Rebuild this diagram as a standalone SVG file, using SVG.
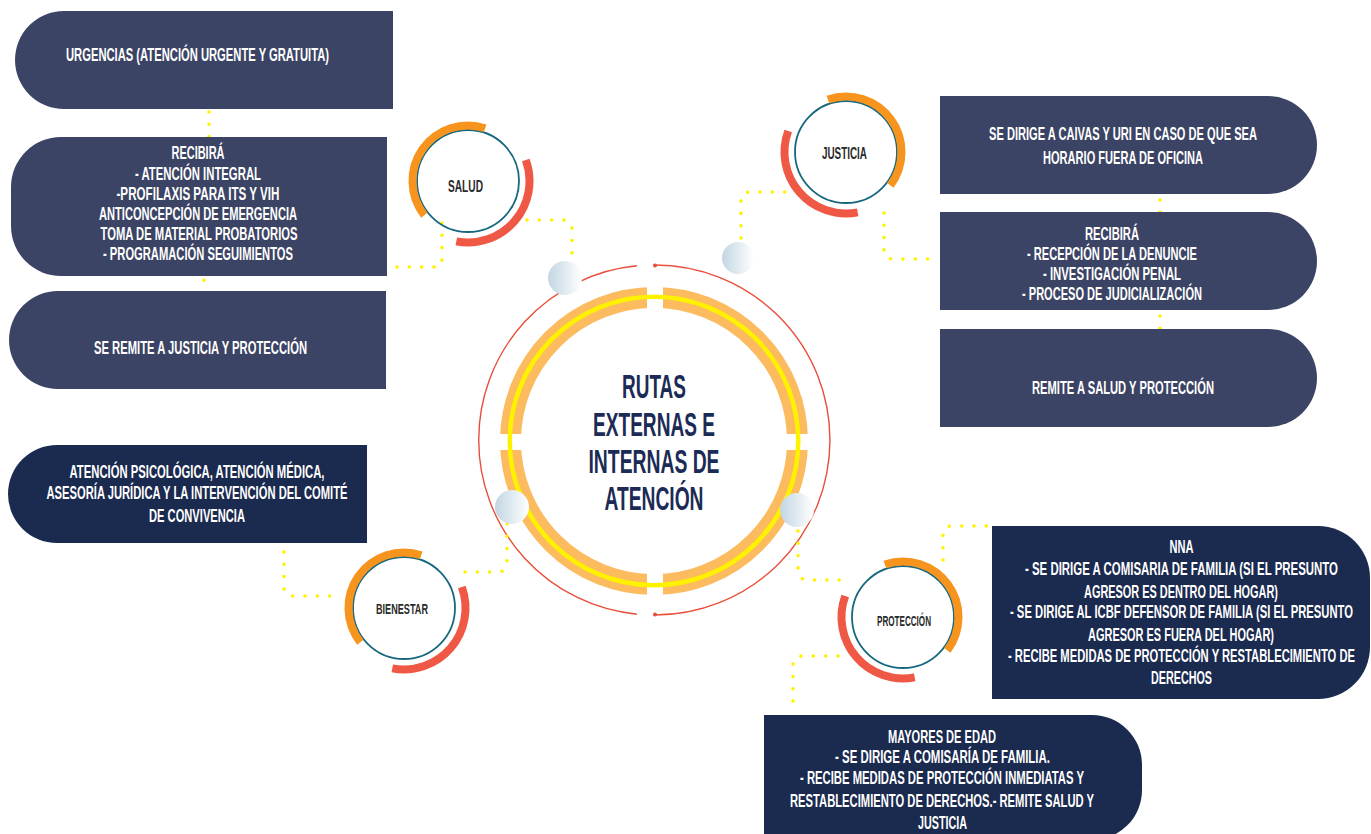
<svg xmlns="http://www.w3.org/2000/svg" width="1371" height="834" viewBox="0 0 1371 834">
<style>
.bx1{fill:#3c4465}
.bx2{fill:#1b2a4f}
.t{font-family:"Liberation Sans",Arial,sans-serif;font-weight:bold;fill:#ffffff;text-anchor:middle;font-size:17.5px}
.lbl{font-family:"Liberation Sans",Arial,sans-serif;font-weight:bold;fill:#2a2a2a;text-anchor:middle}
.title{font-family:"Liberation Sans",Arial,sans-serif;font-weight:bold;fill:#1c2b55;text-anchor:middle;font-size:33px}
.dots{fill:none;stroke:#fff200;stroke-width:3.6;stroke-linecap:round;stroke-dasharray:0 12.3}
.teal{fill:none;stroke:#17687f;stroke-width:1.8}
.or{fill:none;stroke:#f7941d;stroke-width:8}
.rd{fill:none;stroke:#ef5844;stroke-width:8}
.ball{fill:url(#bg)}
</style>
<defs>
<linearGradient id="bg" x1="0" y1="0" x2="1" y2="0">
<stop offset="0" stop-color="#c2d6e2"/>
<stop offset="1" stop-color="#ffffff"/>
</linearGradient>
<mask id="gaps" maskUnits="userSpaceOnUse" x="0" y="0" width="1371" height="834">
<rect x="0" y="0" width="1371" height="834" fill="#fff"/>
<rect x="647" y="270" width="16" height="340" fill="#000"/>
<rect x="480" y="434" width="350" height="16" fill="#000"/>
</mask>
</defs>
<rect width="1371" height="834" fill="#ffffff"/>

<g id="centro">
<path d="M637 265.8 A175 175 0 0 0 637 614.2" fill="none" stroke="#e94e3a" stroke-width="1.4"/>
<path d="M655 265 A175 175 0 0 1 655 615" fill="none" stroke="#e94e3a" stroke-width="1.4"/>
<circle cx="655" cy="265.5" r="2" fill="#e94e3a"/>
<circle cx="655" cy="614.5" r="2" fill="#e94e3a"/>
<circle cx="654" cy="441" r="143.5" fill="none" stroke="#fbbb5e" stroke-width="21" mask="url(#gaps)"/>
<circle cx="654" cy="441" r="144.3" fill="none" stroke="#fff200" stroke-width="4.5"/>
<text class="title" x="654" y="398" textLength="64" lengthAdjust="spacingAndGlyphs">RUTAS</text>
<text class="title" x="654" y="436" textLength="122" lengthAdjust="spacingAndGlyphs">EXTERNAS E</text>
<text class="title" x="654" y="473" textLength="131" lengthAdjust="spacingAndGlyphs">INTERNAS DE</text>
<text class="title" x="654" y="510" textLength="99" lengthAdjust="spacingAndGlyphs">ATENCIÓN</text>
</g>

<g id="connectors">
<path class="dots" d="M209 112 V137"/>
<path class="dots" d="M204 268 V293"/>
<path class="dots" d="M397 267 H436 Q442 267 442 259 V220"/>
<path class="dots" d="M527 220 H563 Q572 221 572 230 V256"/>
<path class="dots" d="M741 238 V201 Q741 192 750 192 H786"/>
<path class="dots" d="M884 213 V250 Q884 259 893 259 H931"/>
<circle cx="1160" cy="187" r="2" fill="none" stroke="#8a8f99" stroke-width="0.8"/>
<path class="dots" d="M1160 200 V214"/>
<path class="dots" d="M1160 316 V343"/>
<path class="dots" d="M284 552 V587 Q284 596 293 596 H330"/>
<path class="dots" d="M465 572 H499 Q507 571 507 562 V523"/>
<path class="dots" d="M798 531 V569 Q798 580 808 580 H841"/>
<path class="dots" d="M943 560 V535 Q943 526 952 526 H988"/>
<path class="dots" d="M838 656 H802 Q793 657 793 666 V702"/>
<circle class="ball" cx="565" cy="278" r="17"/>
<circle class="ball" cx="738" cy="258" r="16"/>
<circle class="ball" cx="512" cy="507" r="17"/>
<circle class="ball" cx="797" cy="510" r="17"/>
</g>

<g id="salud">
<circle class="teal" cx="468" cy="181" r="51"/>
<path class="or" d="M424.3 215.2 A55.5 55.5 0 0 1 485.2 128.2"/>
<path class="rd" d="M525.8 160 A61.5 61.5 0 0 1 456.3 241.4"/>
<text class="lbl" x="465.5" y="192" font-size="17" textLength="35" lengthAdjust="spacingAndGlyphs">SALUD</text>
</g>

<g id="justicia">
<circle class="teal" cx="846" cy="152" r="51"/>
<path class="or" d="M827.9 99.5 A55.5 55.5 0 0 1 890.3 185.4"/>
<path class="rd" d="M857.7 212.4 A61.5 61.5 0 0 1 788.2 131"/>
<text class="lbl" x="844.5" y="159" font-size="16.5" textLength="45" lengthAdjust="spacingAndGlyphs">JUSTICIA</text>
</g>

<g id="bienestar">
<circle class="teal" cx="404" cy="608" r="51"/>
<path class="or" d="M360.3 642.2 A55.5 55.5 0 0 1 421.2 555.2"/>
<path class="rd" d="M461.8 587 A61.5 61.5 0 0 1 392.3 668.4"/>
<text class="lbl" x="402" y="614" font-size="15" textLength="52" lengthAdjust="spacingAndGlyphs">BIENESTAR</text>
</g>

<g id="proteccion">
<circle class="teal" cx="903" cy="617" r="51"/>
<path class="or" d="M884.9 564.5 A55.5 55.5 0 0 1 947.3 650.4"/>
<path class="rd" d="M914.7 677.4 A61.5 61.5 0 0 1 845.2 596"/>
<text class="lbl" x="904" y="626" font-size="14" textLength="54" lengthAdjust="spacingAndGlyphs">PROTECCIÓN</text>
</g>

<g id="urgencias">
<path class="bx1" d="M64 11 H393 V109 H64 A49 49 0 0 1 64 11 Z"/>
<text class="t" x="197.5" y="61" textLength="263" lengthAdjust="spacingAndGlyphs">URGENCIAS (ATENCIÓN URGENTE Y GRATUITA)</text>
</g>

<g id="salud-recibira">
<path class="bx1" d="M61 137 H387 V276 H61 A50 50 0 0 1 11 226 V187 A50 50 0 0 1 61 137 Z"/>
<text class="t" x="198" y="159" textLength="53" lengthAdjust="spacingAndGlyphs">RECIBIRÁ</text>
<text class="t" x="198" y="180" textLength="126" lengthAdjust="spacingAndGlyphs">- ATENCIÓN INTEGRAL</text>
<text class="t" x="198" y="200" textLength="163" lengthAdjust="spacingAndGlyphs">-PROFILAXIS PARA ITS Y VIH</text>
<text class="t" x="198" y="220" textLength="198" lengthAdjust="spacingAndGlyphs">ANTICONCEPCIÓN DE EMERGENCIA</text>
<text class="t" x="199" y="240" textLength="197" lengthAdjust="spacingAndGlyphs">TOMA DE MATERIAL PROBATORIOS</text>
<text class="t" x="198" y="260" textLength="190" lengthAdjust="spacingAndGlyphs">- PROGRAMACIÓN SEGUIMIENTOS</text>
</g>

<g id="salud-remite">
<path class="bx1" d="M58 291 H386 V389 H58 A49 49 0 0 1 58 291 Z"/>
<text class="t" x="200.5" y="354" textLength="213" lengthAdjust="spacingAndGlyphs">SE REMITE A JUSTICIA Y PROTECCIÓN</text>
</g>

<g id="justicia-caivas">
<path class="bx1" d="M940 96 H1268 A49 49 0 0 1 1268 194 H940 Z"/>
<text class="t" x="1123" y="140" textLength="268" lengthAdjust="spacingAndGlyphs">SE DIRIGE A CAIVAS Y URI EN CASO DE QUE SEA</text>
<text class="t" x="1123" y="164" textLength="160" lengthAdjust="spacingAndGlyphs">HORARIO FUERA DE OFICINA</text>
</g>

<g id="justicia-recibira">
<path class="bx1" d="M940 212 H1268 A49 49 0 0 1 1268 310 H940 Z"/>
<text class="t" x="1112" y="240" textLength="54" lengthAdjust="spacingAndGlyphs">RECIBIRÁ</text>
<text class="t" x="1112" y="260" textLength="170" lengthAdjust="spacingAndGlyphs">- RECEPCIÓN DE LA DENUNCIE</text>
<text class="t" x="1112" y="280" textLength="138" lengthAdjust="spacingAndGlyphs">- INVESTIGACIÓN PENAL</text>
<text class="t" x="1112" y="300" textLength="180" lengthAdjust="spacingAndGlyphs">- PROCESO DE JUDICIALIZACIÓN</text>
</g>

<g id="justicia-remite">
<path class="bx1" d="M940 329 H1268 A49 49 0 0 1 1268 427 H940 Z"/>
<text class="t" x="1123" y="394" textLength="182" lengthAdjust="spacingAndGlyphs">REMITE A SALUD Y PROTECCIÓN</text>
</g>

<g id="bienestar-atencion">
<path class="bx2" d="M57 445 H367 V543 H57 A49 49 0 0 1 57 445 Z"/>
<text class="t" x="197" y="478" textLength="255" lengthAdjust="spacingAndGlyphs">ATENCIÓN PSICOLÓGICA, ATENCIÓN MÉDICA,</text>
<text class="t" x="197" y="499" textLength="301" lengthAdjust="spacingAndGlyphs">ASESORÍA JURÍDICA Y LA INTERVENCIÓN DEL COMITÉ</text>
<text class="t" x="197" y="522" textLength="96" lengthAdjust="spacingAndGlyphs">DE CONVIVENCIA</text>
</g>

<g id="proteccion-nna">
<path class="bx2" d="M992 526 H1318 A52 52 0 0 1 1370 578 V647 A52 52 0 0 1 1318 699 H992 Z"/>
<text class="t" x="1181.5" y="553" font-size="17" textLength="24" lengthAdjust="spacingAndGlyphs">NNA</text>
<text class="t" x="1181.5" y="575" font-size="17" textLength="313" lengthAdjust="spacingAndGlyphs">- SE DIRIGE A COMISARIA DE FAMILIA (SI EL PRESUNTO</text>
<text class="t" x="1181" y="598" font-size="17" textLength="194" lengthAdjust="spacingAndGlyphs">AGRESOR ES DENTRO DEL HOGAR)</text>
<text class="t" x="1181.5" y="618" font-size="17" textLength="343" lengthAdjust="spacingAndGlyphs">- SE DIRIGE AL ICBF DEFENSOR DE FAMILIA (SI EL PRESUNTO</text>
<text class="t" x="1181" y="641" font-size="17" textLength="186" lengthAdjust="spacingAndGlyphs">AGRESOR ES FUERA DEL HOGAR)</text>
<text class="t" x="1181.5" y="662" font-size="17" textLength="347" lengthAdjust="spacingAndGlyphs">- RECIBE MEDIDAS DE PROTECCIÓN Y RESTABLECIMIENTO DE</text>
<text class="t" x="1181.5" y="684" font-size="17" textLength="61" lengthAdjust="spacingAndGlyphs">DERECHOS</text>
</g>

<g id="proteccion-mayores">
<path class="bx2" d="M764 715 H1092 A50 50 0 0 1 1142 765 V790 A50 50 0 0 1 1092 840 H764 Z"/>
<text class="t" x="942" y="743" font-size="17" textLength="108" lengthAdjust="spacingAndGlyphs">MAYORES DE EDAD</text>
<text class="t" x="942.5" y="763" font-size="17" textLength="215" lengthAdjust="spacingAndGlyphs">- SE DIRIGE A COMISARÍA DE FAMILIA.</text>
<text class="t" x="942" y="784" font-size="17" textLength="284" lengthAdjust="spacingAndGlyphs">- RECIBE MEDIDAS DE PROTECCIÓN INMEDIATAS Y</text>
<text class="t" x="942" y="807" font-size="17" textLength="304" lengthAdjust="spacingAndGlyphs">RESTABLECIMIENTO DE DERECHOS.- REMITE SALUD Y</text>
<text class="t" x="942.5" y="829" font-size="17" textLength="49" lengthAdjust="spacingAndGlyphs">JUSTICIA</text>
</g>
</svg>
